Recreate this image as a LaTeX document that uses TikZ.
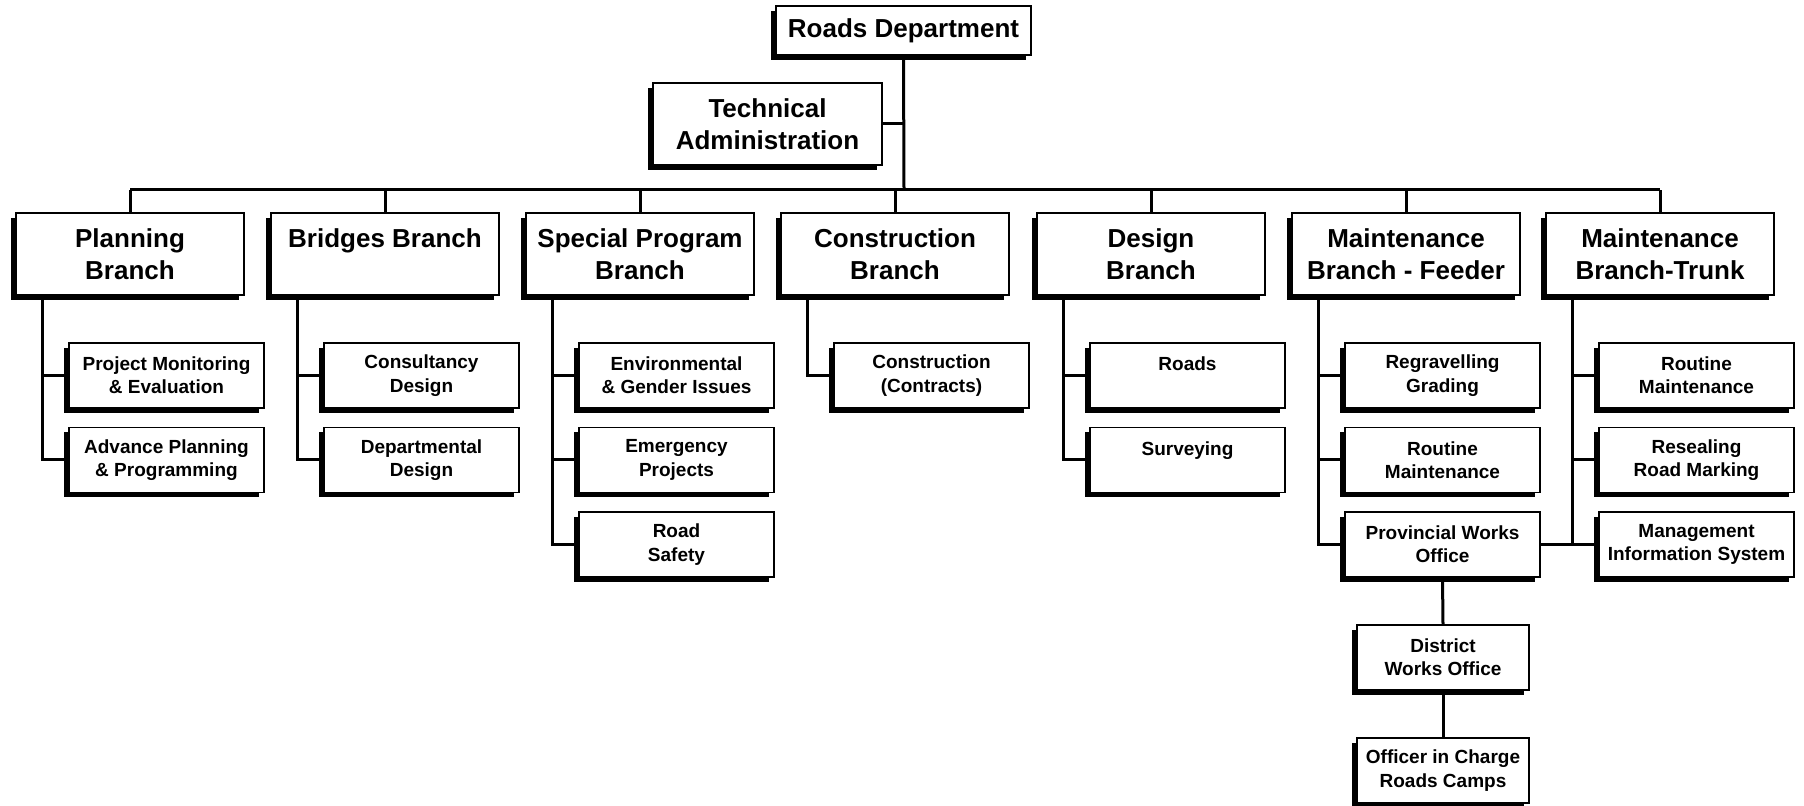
\documentclass[tikz,border=0pt]{standalone}
\usepackage{fontspec}
\setmainfont{Liberation Sans}
\usetikzlibrary{shadows}
\tikzset{
  box/.style={draw, line width=0.75pt, fill=white, align=center, inner sep=0pt,
    drop shadow={shadow xshift=-2.5pt, shadow yshift=-2.5pt, opacity=1, fill=black}},
  head/.style={box, minimum width=114pt, minimum height=41pt, font=\fontsize{13}{16}\selectfont\bfseries},
  unit/.style={box, minimum width=97.5pt, minimum height=32.5pt, font=\fontsize{9.5}{11.7}\selectfont\bfseries},
  link/.style={line width=1.5pt}
}
\begin{document}
\begin{tikzpicture}[x=0.5pt, y=-0.5pt]
        \useasboundingbox (0,0) rectangle (1804,806);
        % top
        \node[head, minimum width=127.5pt, minimum height=24.5pt] (rd) at (903.5,30.5) {Roads Department};
        \node[head, minimum width=114.5pt] (tech) at (767.5,124) {Technical\\Administration};
        \coordinate (bus) at (904,190);
        % branches
        \node[head] (plan) at (130,254) {Planning\\Branch};
        \node[head] (brid) at (385,254) {Bridges Branch\\\mbox{}};
        \node[head] (spec) at (640,254) {Special Program\\Branch};
        \node[head] (cons) at (895,254) {Construction\\Branch};
        \node[head] (desi) at (1151,254) {Design\\Branch};
        \node[head] (mfee) at (1406,254) {Maintenance\\Branch - Feeder};
        \node[head] (mtru) at (1660,254) {Maintenance\\Branch-Trunk};
        % sections
        \node[unit] (pme) at (166.5,375.5) {Project Monitoring\\\& Evaluation};
        \node[unit] (app) at (166.5,460) {Advance Planning\\\& Programming};
        \node[unit] (cde) at (421.5,375.5) {Consultancy\\Design};
        \node[unit] (dde) at (421.5,460) {Departmental\\Design};
        \node[unit] (egi) at (676.5,375.5) {Environmental\\\& Gender Issues};
        \node[unit] (emp) at (676.5,460) {Emergency\\Projects};
        \node[unit] (rsa) at (676.5,544.5) {Road\\Safety};
        \node[unit] (ccon) at (931.5,375.5) {Construction\\(Contracts)};
        \node[unit] (droa) at (1187.5,375.5) {Roads\\\mbox{}};
        \node[unit] (dsur) at (1187.5,460) {Surveying\\\mbox{}};
        \node[unit] (rgr) at (1442.5,375.5) {Regravelling\\Grading};
        \node[unit] (frm) at (1442.5,460) {Routine\\Maintenance};
        \node[unit] (pwo) at (1442.5,544.5) {Provincial Works\\Office};
        \node[unit] (trm) at (1696.5,375.5) {Routine\\Maintenance};
        \node[unit] (rrm) at (1696.5,460) {Resealing\\Road Marking};
        \node[unit] (mis) at (1696.5,544.5) {Management\\Information System};
        \node[unit, minimum width=86pt] (dwo) at (1443,657.5) {District\\Works Office};
        \node[unit, minimum width=86pt] (oic) at (1443,770.5) {Officer in Charge\\Roads Camps};
        % connectors
        \draw[link] (rd.south) -- (bus);
        \draw[link] (tech.east) -- (tech.east -| bus);
        \draw[link] (plan.north |- bus) -- (mtru.north |- bus);
        \draw[link] (plan.north) -- (plan.north |- bus);
        \draw[link] (brid.north) -- (brid.north |- bus);
        \draw[link] (spec.north) -- (spec.north |- bus);
        \draw[link] (cons.north) -- (cons.north |- bus);
        \draw[link] (desi.north) -- (desi.north |- bus);
        \draw[link] (mfee.north) -- (mfee.north |- bus);
        \draw[link] (mtru.north) -- (mtru.north |- bus);
        \draw[link] (plan.south west) ++(27,0) |- (app.west);
        \draw[link] (plan.south west) ++(27,0) |- (pme.west);
        \draw[link] (brid.south west) ++(27,0) |- (dde.west);
        \draw[link] (brid.south west) ++(27,0) |- (cde.west);
        \draw[link] (spec.south west) ++(27,0) |- (rsa.west);
        \draw[link] (spec.south west) ++(27,0) |- (emp.west);
        \draw[link] (spec.south west) ++(27,0) |- (egi.west);
        \draw[link] (cons.south west) ++(27,0) |- (ccon.west);
        \draw[link] (desi.south west) ++(27,0) |- (dsur.west);
        \draw[link] (desi.south west) ++(27,0) |- (droa.west);
        \draw[link] (mfee.south west) ++(27,0) |- (pwo.west);
        \draw[link] (mfee.south west) ++(27,0) |- (frm.west);
        \draw[link] (mfee.south west) ++(27,0) |- (rgr.west);
        \draw[link] (mtru.south west) ++(27,0) |- (mis.west);
        \draw[link] (mtru.south west) ++(27,0) |- (rrm.west);
        \draw[link] (mtru.south west) ++(27,0) |- (trm.west);
        \draw[link] (pwo.east) -- ([xshift=-13.5pt]pwo.east -| mis.west);
        \draw[link] (pwo.south) -- (dwo.north);
        \draw[link] (dwo.south) -- (oic.north);
    \end{tikzpicture}
\end{document}
